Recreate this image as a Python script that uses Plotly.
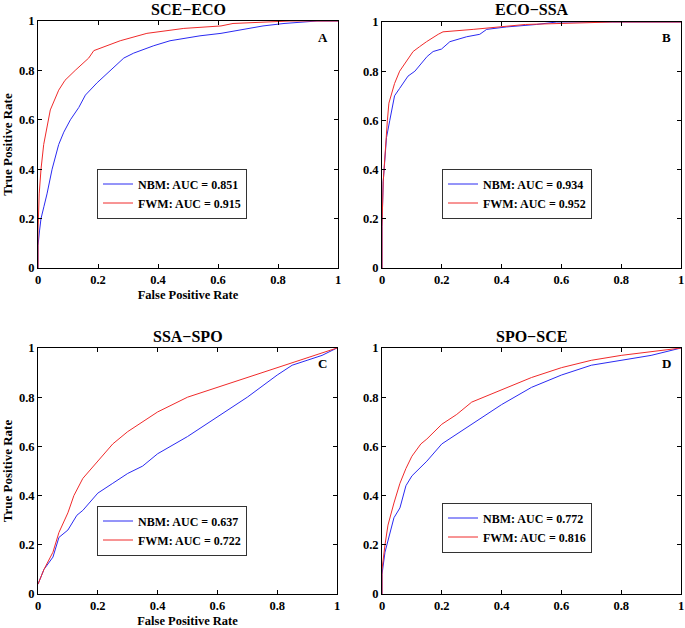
import plotly.graph_objects as go

# ROC points: (false positive rate, true positive rate)
titles = ['SCE\u2212ECO', 'ECO\u2212SSA', 'SSA\u2212SPO', 'SPO\u2212SCE']
letters = ['A', 'B', 'C', 'D']
nbm_auc = ['0.851', '0.934', '0.637', '0.772']
fwm_auc = ['0.915', '0.952', '0.722', '0.816']

# A: SCE-ECO
a_nbm_x = [0, 0, 0.005, 0.01, 0.02, 0.03, 0.047, 0.069, 0.086, 0.108, 0.136, 0.158, 0.197, 0.241, 0.286,
           0.319, 0.386, 0.44, 0.54, 0.61, 0.70, 0.75, 0.82, 0.93, 1.0]
a_nbm_y = [0, 0.09, 0.15, 0.2, 0.25, 0.3, 0.4, 0.5, 0.55, 0.6, 0.65, 0.7, 0.75, 0.8, 0.85,
           0.87, 0.9, 0.92, 0.94, 0.95, 0.97, 0.98, 0.99, 1.0, 1.0]
a_fwm_x = [0, 0, 0.004, 0.01, 0.019, 0.036, 0.041, 0.069, 0.09, 0.124, 0.141, 0.169, 0.186, 0.23,
           0.274, 0.363, 0.486, 0.61, 0.65, 0.84, 1.0]
a_fwm_y = [0, 0.15, 0.3, 0.4, 0.5, 0.6, 0.64, 0.72, 0.76, 0.8, 0.82, 0.85, 0.88, 0.9,
           0.92, 0.95, 0.97, 0.98, 0.99, 1.0, 1.0]

# B: ECO-SSA
b_nbm_x = [0, 0, 0.004, 0.009, 0.015, 0.026, 0.034, 0.042, 0.059, 0.076, 0.087, 0.11, 0.132, 0.151,
           0.171, 0.199, 0.227, 0.283, 0.327, 0.35, 0.417, 0.517, 0.584, 1.0]
b_nbm_y = [0, 0.17, 0.35, 0.45, 0.53, 0.6, 0.65, 0.7, 0.73, 0.76, 0.78, 0.8, 0.83, 0.86,
           0.88, 0.89, 0.92, 0.94, 0.95, 0.97, 0.98, 0.99, 1.0, 1.0]
b_fwm_x = [0, 0, 0.004, 0.011, 0.018, 0.023, 0.031, 0.042, 0.059, 0.082, 0.104, 0.126, 0.149, 0.188,
           0.204, 0.305, 0.394, 0.48, 0.77, 1.0]
b_fwm_y = [0, 0.17, 0.35, 0.5, 0.6, 0.67, 0.7, 0.75, 0.8, 0.84, 0.88, 0.9, 0.92, 0.95,
           0.96, 0.97, 0.98, 0.99, 1.0, 1.0]

# C: SSA-SPO
c_nbm_x = [0, 0.02, 0.05, 0.07, 0.1, 0.13, 0.15, 0.2, 0.25, 0.3, 0.35, 0.4, 0.5, 0.6, 0.65, 0.7,
           0.8, 0.85, 0.9, 0.95, 1.0]
c_nbm_y = [0.04, 0.1, 0.15, 0.23, 0.26, 0.32, 0.34, 0.41, 0.45, 0.49, 0.52, 0.57, 0.64, 0.72, 0.76, 0.8,
           0.89, 0.93, 0.95, 0.97, 1.0]
c_fwm_x = [0, 0.02, 0.05, 0.07, 0.1, 0.12, 0.15, 0.2, 0.25, 0.3, 0.35, 0.4, 0.5, 0.6, 0.7, 0.8, 0.9, 1.0]
c_fwm_y = [0.04, 0.1, 0.17, 0.25, 0.33, 0.4, 0.47, 0.54, 0.61, 0.66, 0.70, 0.74, 0.80, 0.84, 0.88, 0.92,
           0.96, 1.0]

# D: SPO-SCE
d_nbm_x = [0, 0, 0.01, 0.02, 0.04, 0.06, 0.08, 0.1, 0.15, 0.2, 0.25, 0.3, 0.4, 0.5, 0.6, 0.7, 0.8, 0.9, 1.0]
d_nbm_y = [0, 0.08, 0.17, 0.22, 0.31, 0.35, 0.44, 0.48, 0.54, 0.61, 0.65, 0.69, 0.77, 0.84, 0.89, 0.93,
           0.95, 0.97, 1.0]
d_fwm_x = [0, 0, 0.01, 0.02, 0.04, 0.06, 0.08, 0.1, 0.13, 0.15, 0.2, 0.25, 0.3, 0.4, 0.5, 0.6, 0.7, 0.8,
           0.9, 1.0]
d_fwm_y = [0, 0.1, 0.2, 0.28, 0.37, 0.45, 0.51, 0.56, 0.61, 0.63, 0.69, 0.73, 0.78, 0.83, 0.88, 0.92,
           0.95, 0.97, 0.985, 1.0]

nbm = [(a_nbm_x, a_nbm_y), (b_nbm_x, b_nbm_y), (c_nbm_x, c_nbm_y), (d_nbm_x, d_nbm_y)]
fwm = [(a_fwm_x, a_fwm_y), (b_fwm_x, b_fwm_y), (c_fwm_x, c_fwm_y), (d_fwm_x, d_fwm_y)]

W, H = 685, 628
# panel boxes in pixels: left, right, top, bottom
boxes = [(38, 338, 21, 268), (382, 681, 22, 268), (38, 337, 348, 594), (382, 681, 348, 594)]
# legend left edge and vertical centre
legpos = [(97, 193.5), (442, 193.5), (97, 530.5), (442, 527.5)]

FONT = 'Liberation Serif'
BLUE = '#2a2af2'
RED = '#f02a2a'

fig = go.Figure()
for i in range(4):
    n = '' if i == 0 else str(i + 1)
    lg = 'legend' + n
    fig.add_trace(go.Scatter(x=nbm[i][0], y=nbm[i][1], mode='lines', line=dict(color=BLUE, width=1),
                             name='<b>NBM: AUC = ' + nbm_auc[i] + '</b>', xaxis='x' + n, yaxis='y' + n, legend=lg))
    fig.add_trace(go.Scatter(x=fwm[i][0], y=fwm[i][1], mode='lines', line=dict(color=RED, width=1),
                             name='<b>FWM: AUC = ' + fwm_auc[i] + '</b>', xaxis='x' + n, yaxis='y' + n, legend=lg))

layout = dict(width=W, height=H, margin=dict(l=0, r=0, t=0, b=0), plot_bgcolor='white', paper_bgcolor='white',
              font=dict(family=FONT, color='black'), showlegend=True, annotations=[])
tickvals = [0, 0.2, 0.4, 0.6, 0.8, 1]
ticktext = ['<b>0</b>', '<b>0.2</b>', '<b>0.4</b>', '<b>0.6</b>', '<b>0.8</b>', '<b>1</b>']
for i, (l, r, t, b) in enumerate(boxes):
    n = '' if i == 0 else str(i + 1)
    ax = dict(range=[0, 1], tickvals=tickvals, ticktext=ticktext, ticks='inside', ticklen=4, tickcolor='black',
              showline=True, linecolor='black', linewidth=1, mirror='ticks', showgrid=False, zeroline=False,
              tickfont=dict(size=12.5, family=FONT), automargin=False)
    xa = dict(ax, domain=[l / W, r / W], anchor='y' + n)
    ya = dict(ax, domain=[1 - b / H, 1 - t / H], anchor='x' + n)
    if i in (0, 2):
        xa['title'] = dict(text='<b>False Positive Rate</b>', font=dict(size=12.5, family=FONT), standoff=4)
        ya['title'] = dict(text='<b>True Positive Rate</b>', font=dict(size=13, family=FONT), standoff=4)
    layout['xaxis' + n] = xa
    layout['yaxis' + n] = ya
    lx, ly = legpos[i]
    layout['legend' + n] = dict(x=lx / W, y=1 - ly / H, xanchor='left', yanchor='middle', bgcolor='white',
                                bordercolor='#333333', borderwidth=1, font=dict(size=12, family=FONT),
                                tracegroupgap=0, itemwidth=30)
    layout['annotations'].append(dict(text='<b>' + titles[i] + '</b>', x=(l + r) / 2 / W, y=1 - (t - 12) / H,
                                      xref='paper', yref='paper', showarrow=False, xanchor='center',
                                      yanchor='middle', font=dict(size=16, family=FONT)))
    layout['annotations'].append(dict(text='<b>' + letters[i] + '</b>', x=0.95, y=0.935, xref='x' + n,
                                      yref='y' + n, showarrow=False, font=dict(size=13, family=FONT)))

fig.update_layout(layout)
# the page's default body margin would push the figure 8px off
fig.write_html('out.html', config={'displayModeBar': False},
               post_script="document.body.style.margin='0';")
